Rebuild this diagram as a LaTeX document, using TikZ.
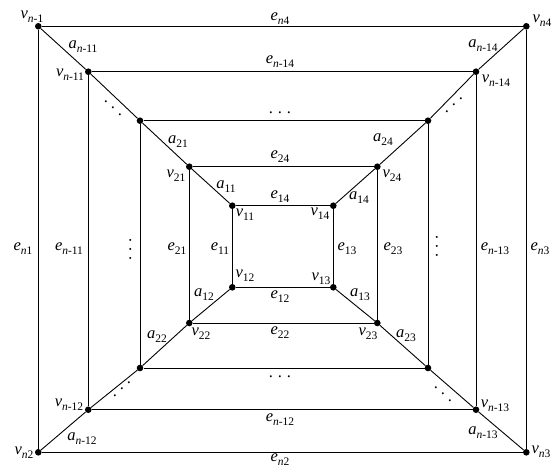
\documentclass[tikz,border=0pt]{standalone}
\usepackage{fontspec}
\setmainfont{Liberation Serif}

\newcommand\ix[2]{{\itshape #1}\raisebox{-4pt}{\fontsize{11.5}{13}\selectfont #2}}
\newcommand\nn{\textit{n}}
\newcommand\dotrow{.\kern4.9pt.\kern4.9pt.}

\tikzset{
  vtx/.style={circle, fill=black, inner sep=0pt, minimum size=6.6pt},
  lbl/.style={inner sep=0pt, font=\fontsize{16.5}{18}\selectfont},
  edge/.style={line width=0.9pt}
}

\begin{document}
\begin{tikzpicture}[x=1pt, y=-1pt]
  \useasboundingbox (0,0) rectangle (554,468);
  %   Five nested squares: corner 1 top left, 2 bottom left, 3 bottom right, 4 top right
  \foreach \i/\l/\r/\t/\b in {1/232.3/333.3/205.7/287.3, 2/189.3/377.3/166.7/323, 3/140/428/120.7/368, 4/88.3/476/71.7/409.7, 5/38.3/526.3/26.3/452.3} {
    \node[vtx] (v\i1) at (\l,\t) {};
    \node[vtx] (v\i2) at (\l,\b) {};
    \node[vtx] (v\i3) at (\r,\b) {};
    \node[vtx] (v\i4) at (\r,\t) {};
    \draw[edge] (v\i1) -- (v\i4) -- (v\i3) -- (v\i2) -- (v\i1);
  }
  %   Spokes between neighbouring squares
  \foreach \i [evaluate=\i as \j using int(\i+1)] in {1,...,4}
    \foreach \k in {1,...,4}
      \draw[edge] (v\i\k) -- (v\j\k);

  %   Vertex labels
  \node[lbl] (lv51) at (32,17) {\ix{v}{\nn-1}};
  \node[lbl] (lv54) at (542,21) {\ix{v}{\nn4}};
  \node[lbl] (lv52) at (24,453) {\ix{v}{\nn2}};
  \node[lbl] (lv53) at (541,452) {\ix{v}{\nn3}};
  \node[lbl] (lv41) at (70,75) {\ix{v}{\nn-11}};
  \node[lbl] (lv44) at (496,81) {\ix{v}{\nn-14}};
  \node[lbl] (lv42) at (69,405) {\ix{v}{\nn-12}};
  \node[lbl] (lv43) at (495,406) {\ix{v}{\nn-13}};
  \node[lbl] (lv21) at (176,176) {\ix{v}{21}};
  \node[lbl] (lv24) at (392,176) {\ix{v}{24}};
  \node[lbl] (lv22) at (201,334) {\ix{v}{22}};
  \node[lbl] (lv23) at (368,334) {\ix{v}{23}};
  \node[lbl] (lv11) at (245,215) {\ix{v}{11}};
  \node[lbl] (lv14) at (320,214) {\ix{v}{14}};
  \node[lbl] (lv12) at (245,276) {\ix{v}{12}};
  \node[lbl] (lv13) at (321,279) {\ix{v}{13}};

  %   Spoke labels
  \node[lbl] (la41) at (83,47) {\ix{a}{\nn-11}};
  \node[lbl] (la44) at (483,46) {\ix{a}{\nn-14}};
  \node[lbl] (la42) at (82,439) {\ix{a}{\nn-12}};
  \node[lbl] (la43) at (483,433) {\ix{a}{\nn-13}};
  \node[lbl] (la21) at (178,142) {\ix{a}{21}};
  \node[lbl] (la24) at (383,140) {\ix{a}{24}};
  \node[lbl] (la22) at (157,337) {\ix{a}{22}};
  \node[lbl] (la23) at (406,336) {\ix{a}{23}};
  \node[lbl] (la11) at (226,187) {\ix{a}{11}};
  \node[lbl] (la14) at (359,198) {\ix{a}{14}};
  \node[lbl] (la12) at (204,295) {\ix{a}{12}};
  \node[lbl] (la13) at (360,295) {\ix{a}{13}};

  %   Edge labels, top and bottom
  \node[lbl] (le54) at (280,19) {\ix{e}{\nn4}};
  \node[lbl] (le44) at (280,62) {\ix{e}{\nn-14}};
  \node[lbl] (le24) at (280,157) {\ix{e}{24}};
  \node[lbl] (le14) at (280,197) {\ix{e}{14}};
  \node[lbl] (le12) at (280,297) {\ix{e}{12}};
  \node[lbl] (le22) at (280,333) {\ix{e}{22}};
  \node[lbl] (le42) at (280,420) {\ix{e}{\nn-12}};
  \node[lbl] (le52) at (280,460) {\ix{e}{\nn2}};
  %   Edge labels, left and right
  \node[lbl] (le51) at (23,249) {\ix{e}{\nn1}};
  \node[lbl] (le41) at (69,249) {\ix{e}{\nn-11}};
  \node[lbl] (le21) at (177,249) {\ix{e}{21}};
  \node[lbl] (le11) at (220,249) {\ix{e}{11}};
  \node[lbl] (le13) at (347,249) {\ix{e}{13}};
  \node[lbl] (le23) at (393,249) {\ix{e}{23}};
  \node[lbl] (le43) at (495,249) {\ix{e}{\nn-13}};
  \node[lbl] (le53) at (540,249) {\ix{e}{\nn3}};

  %   Rows of dots for the squares left out
  \node[lbl, rotate=90] (dleft) at (130.5,249) {\dotrow};
  \node[lbl, rotate=90] (dright) at (437,246) {\dotrow};
  \foreach \n/\x/\y/\dx/\dy in {dtop/280/113/9/0, dbot/280/377/9/0,
                                dtl/113/108/7/6.7, dtr/454/105/-7/6.7, dbl/122/389/-7/6.7, dbr/443/394/7/6.7}
    \foreach \d in {1,2,3}
      \node[lbl] (\n\d) at (\x+\d*\dx-2*\dx, \y+\d*\dy-2*\dy) {.};
\end{tikzpicture}
\end{document}
